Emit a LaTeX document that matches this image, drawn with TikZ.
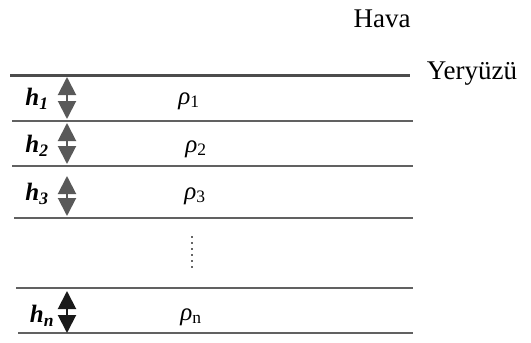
\documentclass[tikz,border=0pt]{standalone}
\usepackage{fontspec}
\setmainfont{Liberation Serif}
\usetikzlibrary{arrows.meta}
\begin{document}
\begin{tikzpicture}[x=1pt,y=-1pt,
  layer/.style={draw=black!62,line width=1.8pt},
  surface/.style={draw=black!70,line width=3pt},
  harrow/.style={draw=#1,fill=#1,line width=2pt,
    {Triangle[width=18pt,length=18pt]}-{Triangle[width=18pt,length=18pt]}},
  hlab/.style={font=\fontsize{25}{25}\selectfont\bfseries\itshape,anchor=center},
  rlab/.style={font=\fontsize{25}{25}\selectfont,anchor=center},
  txt/.style={font=\fontsize{27}{27}\selectfont,anchor=center}]
\useasboundingbox (0,0) rectangle (531,343);
% layer boundaries
\coordinate (l0a) at (10,75);  \coordinate (l0b) at (410,75);
\coordinate (l1a) at (12,121); \coordinate (l1b) at (413,121);
\coordinate (l2a) at (12,166); \coordinate (l2b) at (413,166);
\coordinate (l3a) at (14,218); \coordinate (l3b) at (413,218);
\coordinate (l4a) at (16,288); \coordinate (l4b) at (413,288);
\coordinate (l5a) at (18,333); \coordinate (l5b) at (413,333);
\draw[surface] (l0a) -- (l0b);
\draw[layer] (l1a) -- (l1b);
\draw[layer] (l2a) -- (l2b);
\draw[layer] (l3a) -- (l3b);
\draw[layer] (l4a) -- (l4b);
\draw[layer] (l5a) -- (l5b);
% texts
\node[txt] (hava) at (382,19) {Hava};
\node[txt] (yer) at (472,74) {Yeryüzü};
% thickness arrows
\coordinate (a1t) at (67,77);  \coordinate (a1b) at (67,119);
\coordinate (a2t) at (67,123); \coordinate (a2b) at (67,164);
\coordinate (a3t) at (67,176); \coordinate (a3b) at (67,216);
\coordinate (a4t) at (67,291); \coordinate (a4b) at (67,333);
\draw[harrow=black!65] (a1t) -- (a1b);
\draw[harrow=black!65] (a2t) -- (a2b);
\draw[harrow=black!65] (a3t) -- (a3b);
\draw[harrow=black!90] (a4t) -- (a4b);
% labels
\node[hlab] (h1) at (37,99) {h\textsubscript{1}};
\node[hlab] (h2) at (37,146) {h\textsubscript{2}};
\node[hlab] (h3) at (37,194) {h\textsubscript{3}};
\node[hlab] (hn) at (42,316) {h\textsubscript{n}};
\node[rlab] (r1) at (189,101) {\textit{ρ}\textsubscript{1}};
\node[rlab] (r2) at (196,149) {\textit{ρ}\textsubscript{2}};
\node[rlab] (r3) at (195,196) {\textit{ρ}\textsubscript{3}};
\node[rlab] (rn) at (191,317) {\textit{ρ}\textsubscript{n}};
% dots
\coordinate (d1) at (192,236); \coordinate (d2) at (192,270);
\draw[black!60,line width=2pt,dash pattern=on 2pt off 4pt] (d1) -- (d2);
\end{tikzpicture}
\end{document}
